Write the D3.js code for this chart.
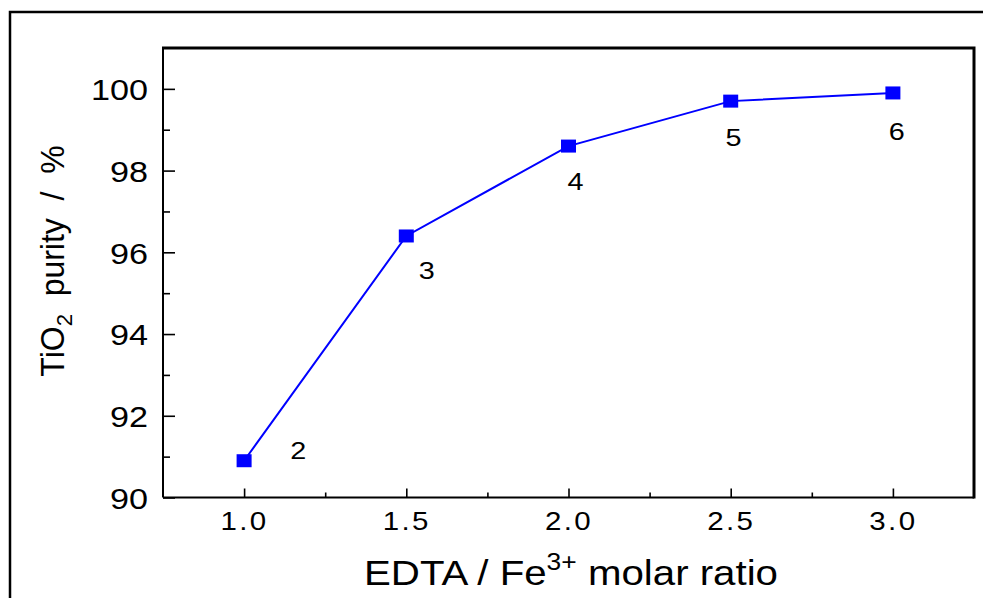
<!DOCTYPE html>
<html>
<head>
<meta charset="utf-8">
<script src="https://cdn.jsdelivr.net/npm/d3@7"></script>
<style>
  html, body { margin: 0; padding: 0; background: #fff; }
  svg { display: block; }
  text { font-family: "Liberation Sans", Arial, Helvetica, sans-serif; fill: #000; }
</style>
</head>
<body>
<svg id="chart" width="983" height="598"></svg>
<script>
// ---- data ----
const ratios = [1.0, 1.5, 2.0, 2.5, 3.0];
const purity = [90.9, 96.4, 98.6, 99.7, 99.9];
const sampleLabels = ["2", "3", "4", "5", "6"];
// annotation anchor positions in data units (ratio, purity)
const labelRatio = [1.167, 1.563, 2.022, 2.509, 3.012];
const labelPurity = [90.94, 95.35, 97.53, 98.59, 98.75];
const xMajorTicks = [1.0, 1.5, 2.0, 2.5, 3.0];
const xMinorTicks = [1.25, 1.75, 2.25, 2.75];
const yMajorTicks = [90, 92, 94, 96, 98, 100];
const yMinorTicks = [91, 93, 95, 97, 99];

// ---- layout ----
const svg = d3.select("#chart");
const pLeft = 163, pRight = 974, pTop = 48, pBottom = 497.5;
const x = d3.scaleLinear().domain([0.75, 3.25]).range([pLeft, pRight]);
const y = d3.scaleLinear().domain([90, 101]).range([pBottom, pTop]);

svg.append("rect").attr("width", 983).attr("height", 598).attr("fill", "#fff");

// outer frame (clipped by the picture edge)
svg.append("path")
  .attr("d", "M10,600 V12 H985")
  .attr("fill", "none").attr("stroke", "#000").attr("stroke-width", 2.5);

// axes
const sxTick = 1.18;
const xAxis = svg.append("g").attr("transform", `translate(0,${pBottom})`)
  .call(d3.axisBottom(x).tickValues(xMajorTicks).tickSizeInner(-9).tickSizeOuter(0)
        .tickFormat(d3.format(".1f")));
xAxis.select(".domain").remove();
xAxis.selectAll(".tick line").attr("stroke", "#000").attr("stroke-width", 1.6);
xAxis.selectAll(".tick text")
  .attr("font-size", 25).attr("y", 32.5).attr("dy", 0)
  .attr("letter-spacing", 2)
  .attr("transform", `scale(${sxTick},1)`);

const xMinor = svg.append("g").attr("transform", `translate(0,${pBottom})`)
  .call(d3.axisBottom(x).tickValues(xMinorTicks).tickSizeInner(-5).tickSizeOuter(0).tickFormat(""));
xMinor.select(".domain").remove();
xMinor.selectAll(".tick line").attr("stroke", "#000").attr("stroke-width", 1.6);

const yAxis = svg.append("g").attr("transform", `translate(${pLeft},0)`)
  .call(d3.axisLeft(y).tickValues(yMajorTicks).tickSizeInner(-12).tickSizeOuter(0)
        .tickFormat(d3.format("d")));
yAxis.select(".domain").remove();
yAxis.selectAll(".tick line").attr("stroke", "#000").attr("stroke-width", 1.6);
yAxis.selectAll(".tick text")
  .attr("font-size", 30).attr("x", -15 / 1.14).attr("dy", "0.36em")
  .attr("transform", "scale(1.14,1)");

const yMinor = svg.append("g").attr("transform", `translate(${pLeft},0)`)
  .call(d3.axisLeft(y).tickValues(yMinorTicks).tickSizeInner(-7).tickSizeOuter(0).tickFormat(""));
yMinor.select(".domain").remove();
yMinor.selectAll(".tick line").attr("stroke", "#000").attr("stroke-width", 1.6);

// plot frame
svg.append("path")
  .attr("d", `M${pLeft},${pBottom} H${pRight}`)
  .attr("stroke", "#000").attr("stroke-width", 2).attr("fill", "none");
svg.append("path")
  .attr("d", `M${pLeft},${pBottom} V${pTop}`)
  .attr("stroke", "#000").attr("stroke-width", 2).attr("fill", "none");
svg.append("path")
  .attr("d", `M${pLeft - 1},${pTop} H${pRight} V${pBottom + 1}`)
  .attr("stroke", "#000").attr("stroke-width", 3).attr("fill", "none");

// data
const pts = ratios.map((r, i) => [r, purity[i]]);
svg.append("path")
  .datum(pts)
  .attr("d", d3.line().x(d => x(d[0])).y(d => y(d[1])))
  .attr("fill", "none").attr("stroke", "#0000ff").attr("stroke-width", 2);

svg.selectAll("rect.mk").data(pts).join("rect")
  .attr("class", "mk")
  .attr("x", d => x(d[0]) - 7.5).attr("y", d => y(d[1]) - 6.5)
  .attr("width", 15).attr("height", 13)
  .attr("fill", "#0000ff");

// sample labels
svg.selectAll("text.lbl").data(sampleLabels).join("text")
  .attr("class", "lbl")
  .attr("text-anchor", "middle").attr("font-size", 24)
  .attr("transform", (d, i) => `translate(${x(labelRatio[i])},${y(labelPurity[i])}) scale(1.2,1)`)
  .text(d => d);

// axis titles
const xt = svg.append("text")
  .attr("text-anchor", "middle").attr("font-size", 35)
  .attr("transform", `translate(571,585) scale(1.15,1)`);
xt.append("tspan").text("EDTA / Fe");
xt.append("tspan").attr("font-size", 23).attr("dy", -15).text("3+");
xt.append("tspan").attr("dy", 15).text(" molar ratio");

const yt = svg.append("text")
  .attr("text-anchor", "middle").attr("font-size", 32)
  .attr("xml:space", "preserve").style("white-space", "pre")
  .attr("transform", `translate(64,261) scale(1.04,1) rotate(-90)`);
yt.append("tspan").text("TiO");
yt.append("tspan").attr("font-size", 22).attr("dy", 8).text("2");
yt.append("tspan").attr("dy", -8).text("  purity  /  %");
</script>
</body>
</html>
